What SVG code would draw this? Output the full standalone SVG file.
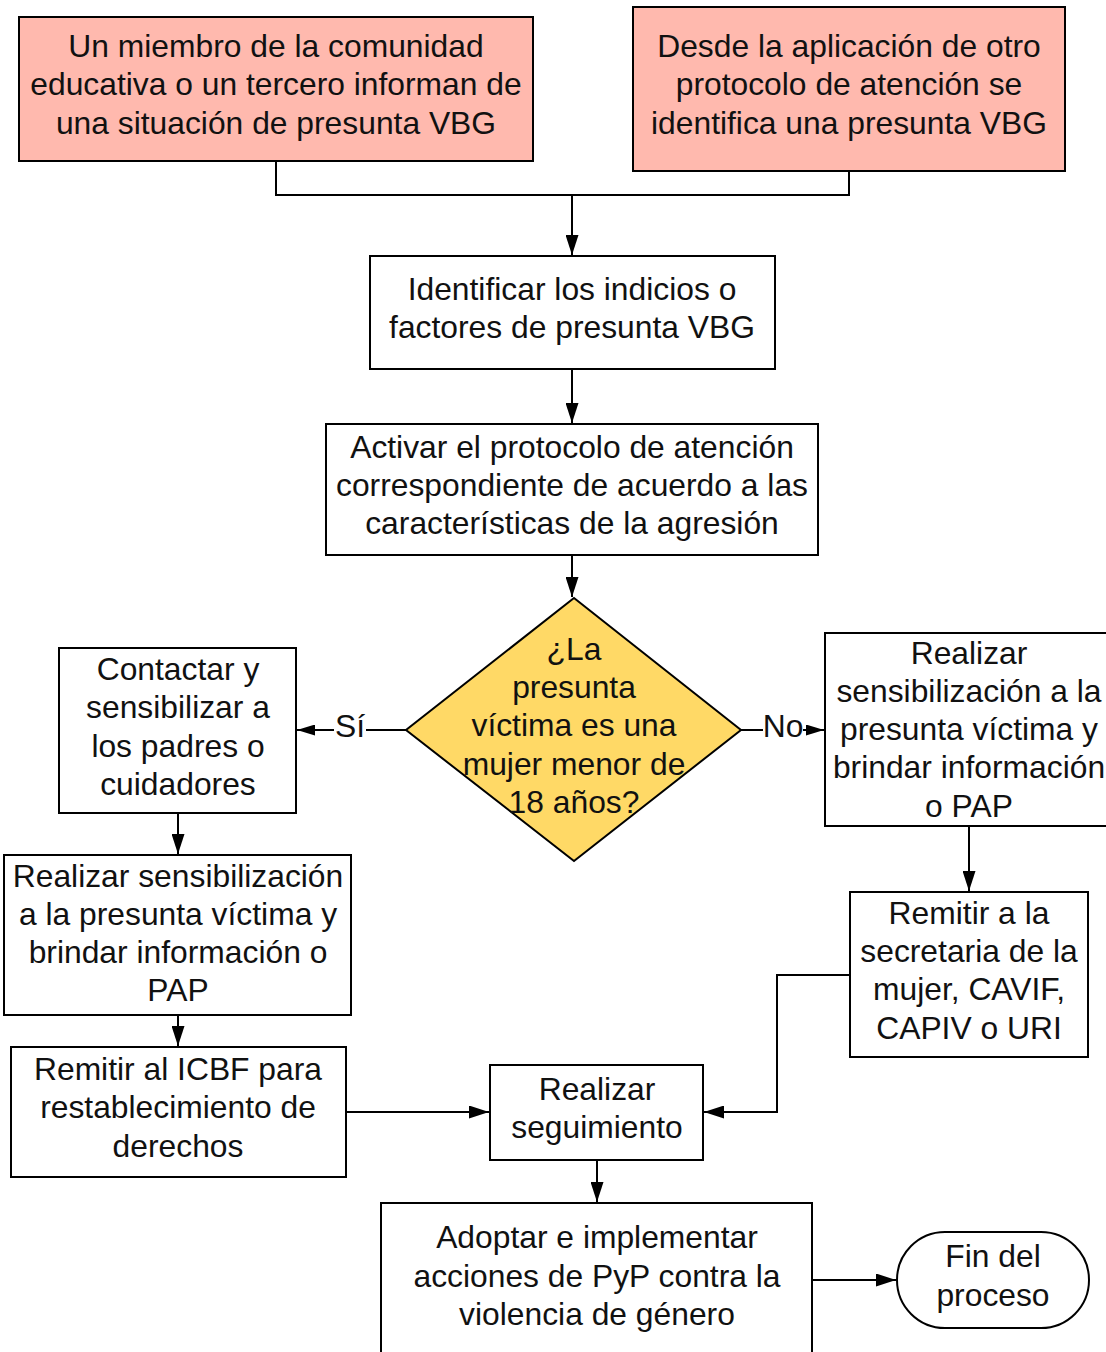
<svg xmlns="http://www.w3.org/2000/svg" width="1106" height="1352" viewBox="0 0 1106 1352">
  <style>
    .box { fill: #ffffff; stroke: #000000; stroke-width: 2; }
    .start { fill: #ffb9ae; stroke: #000000; stroke-width: 2; }
    .decision { fill: #ffd966; stroke: #000000; stroke-width: 2; }
    .lbl { font-family: "Liberation Sans", Arial, sans-serif; font-size: 31.8px; fill: #111111; text-anchor: middle; }
    .edge { fill: none; stroke: #000000; stroke-width: 2; }
    .arrow { fill: none; stroke: #000000; stroke-width: 2; marker-end: url(#head); }
    .arrow-s { fill: none; stroke: #000000; stroke-width: 2; marker-end: url(#head-s); }
  </style>
  <defs>
    <marker id="head" viewBox="0 0 20 13" refX="20" refY="6.5" markerWidth="20" markerHeight="13" markerUnits="userSpaceOnUse" orient="auto">
      <path d="M0,0 L20,6.5 L0,13 Z" fill="#000000"/>
    </marker>
    <marker id="head-s" viewBox="0 0 18 11" refX="18" refY="5.5" markerWidth="18" markerHeight="11" markerUnits="userSpaceOnUse" orient="auto">
      <path d="M0,0 L18,5.5 L0,11 Z" fill="#000000"/>
    </marker>
  </defs>
  <rect width="1106" height="1352" fill="#ffffff"/>

  <g id="connectors">
    <polyline class="edge" points="276,161 276,195 849,195 849,171"/>
    <line class="arrow" x1="572" y1="195" x2="572" y2="255"/>
    <line class="arrow" x1="572" y1="369" x2="572" y2="423"/>
    <line class="arrow" x1="572" y1="555" x2="572" y2="597"/>
    <line class="arrow-s" x1="406" y1="730" x2="297" y2="730"/>
    <line class="arrow-s" x1="741" y1="730" x2="824" y2="730"/>
    <line class="arrow" x1="178" y1="813" x2="178" y2="854"/>
    <line class="arrow" x1="178" y1="1015" x2="178" y2="1046"/>
    <line class="arrow" x1="346" y1="1112" x2="489" y2="1112"/>
    <line class="arrow" x1="969" y1="826" x2="969" y2="891"/>
    <polyline class="arrow" points="850,975 777,975 777,1112 704,1112"/>
    <line class="arrow" x1="597" y1="1160" x2="597" y2="1202"/>
    <line class="arrow" x1="812" y1="1280" x2="896" y2="1280"/>
    <rect x="334" y="710" width="32" height="36" fill="#ffffff"/>
    <text class="lbl" x="350" y="737">Sí</text>
    <rect x="763" y="710" width="40" height="36" fill="#ffffff"/>
    <text class="lbl" x="783" y="737">No</text>
  </g>

  <g id="informe-comunidad">
    <rect class="start" x="19" y="17" width="514" height="144"/>
    <text class="lbl" x="276" y="57">Un miembro de la comunidad</text>
    <text class="lbl" x="276" y="95">educativa o un tercero informan de</text>
    <text class="lbl" x="276" y="134">una situación de presunta VBG</text>
  </g>

  <g id="otro-protocolo">
    <rect class="start" x="633" y="7" width="432" height="164"/>
    <text class="lbl" x="849" y="57">Desde la aplicación de otro</text>
    <text class="lbl" x="849" y="95">protocolo de atención se</text>
    <text class="lbl" x="849" y="134">identifica una presunta VBG</text>
  </g>

  <g id="identificar">
    <rect class="box" x="370" y="256" width="405" height="113"/>
    <text class="lbl" x="572" y="300">Identificar los indicios o</text>
    <text class="lbl" x="572" y="338">factores de presunta VBG</text>
  </g>

  <g id="activar">
    <rect class="box" x="326" y="424" width="492" height="131"/>
    <text class="lbl" x="572" y="458">Activar el protocolo de atención</text>
    <text class="lbl" x="572" y="496">correspondiente de acuerdo a las</text>
    <text class="lbl" x="572" y="534">características de la agresión</text>
  </g>

  <g id="decision-menor">
    <polygon class="decision" points="574,598 741,730 574,861 406,730"/>
    <text class="lbl" x="574" y="660">¿La</text>
    <text class="lbl" x="574" y="698">presunta</text>
    <text class="lbl" x="574" y="736">víctima es una</text>
    <text class="lbl" x="574" y="775">mujer menor de</text>
    <text class="lbl" x="574" y="813">18 años?</text>
  </g>

  <g id="contactar-padres">
    <rect class="box" x="59" y="648" width="237" height="165"/>
    <text class="lbl" x="178" y="680">Contactar y</text>
    <text class="lbl" x="178" y="718">sensibilizar a</text>
    <text class="lbl" x="178" y="757">los padres o</text>
    <text class="lbl" x="178" y="795">cuidadores</text>
  </g>

  <g id="sensibilizar-menor">
    <rect class="box" x="4" y="855" width="347" height="160"/>
    <text class="lbl" x="178" y="887">Realizar sensibilización</text>
    <text class="lbl" x="178" y="925">a la presunta víctima y</text>
    <text class="lbl" x="178" y="963">brindar información o</text>
    <text class="lbl" x="178" y="1001">PAP</text>
  </g>

  <g id="remitir-icbf">
    <rect class="box" x="11" y="1047" width="335" height="130"/>
    <text class="lbl" x="178" y="1080">Remitir al ICBF para</text>
    <text class="lbl" x="178" y="1118">restablecimiento de</text>
    <text class="lbl" x="178" y="1157">derechos</text>
  </g>

  <g id="seguimiento">
    <rect class="box" x="490" y="1065" width="213" height="95"/>
    <text class="lbl" x="597" y="1100">Realizar</text>
    <text class="lbl" x="597" y="1138">seguimiento</text>
  </g>

  <g id="sensibilizar-adulta">
    <rect class="box" x="825" y="633" width="290" height="193"/>
    <text class="lbl" x="969" y="664">Realizar</text>
    <text class="lbl" x="969" y="702">sensibilización a la</text>
    <text class="lbl" x="969" y="740">presunta víctima y</text>
    <text class="lbl" x="969" y="778">brindar información</text>
    <text class="lbl" x="969" y="817">o PAP</text>
  </g>

  <g id="remitir-secretaria">
    <rect class="box" x="850" y="892" width="238" height="165"/>
    <text class="lbl" x="969" y="924">Remitir a la</text>
    <text class="lbl" x="969" y="962">secretaria de la</text>
    <text class="lbl" x="969" y="1000">mujer, CAVIF,</text>
    <text class="lbl" x="969" y="1039">CAPIV o URI</text>
  </g>

  <g id="adoptar-acciones">
    <rect class="box" x="381" y="1203" width="431" height="160"/>
    <text class="lbl" x="597" y="1248">Adoptar e implementar</text>
    <text class="lbl" x="597" y="1287">acciones de PyP contra la</text>
    <text class="lbl" x="597" y="1325">violencia de género</text>
  </g>

  <g id="fin">
    <rect class="box" x="897" y="1232" width="192" height="96" rx="48" ry="48"/>
    <text class="lbl" x="993" y="1267">Fin del</text>
    <text class="lbl" x="993" y="1306">proceso</text>
  </g>
</svg>
